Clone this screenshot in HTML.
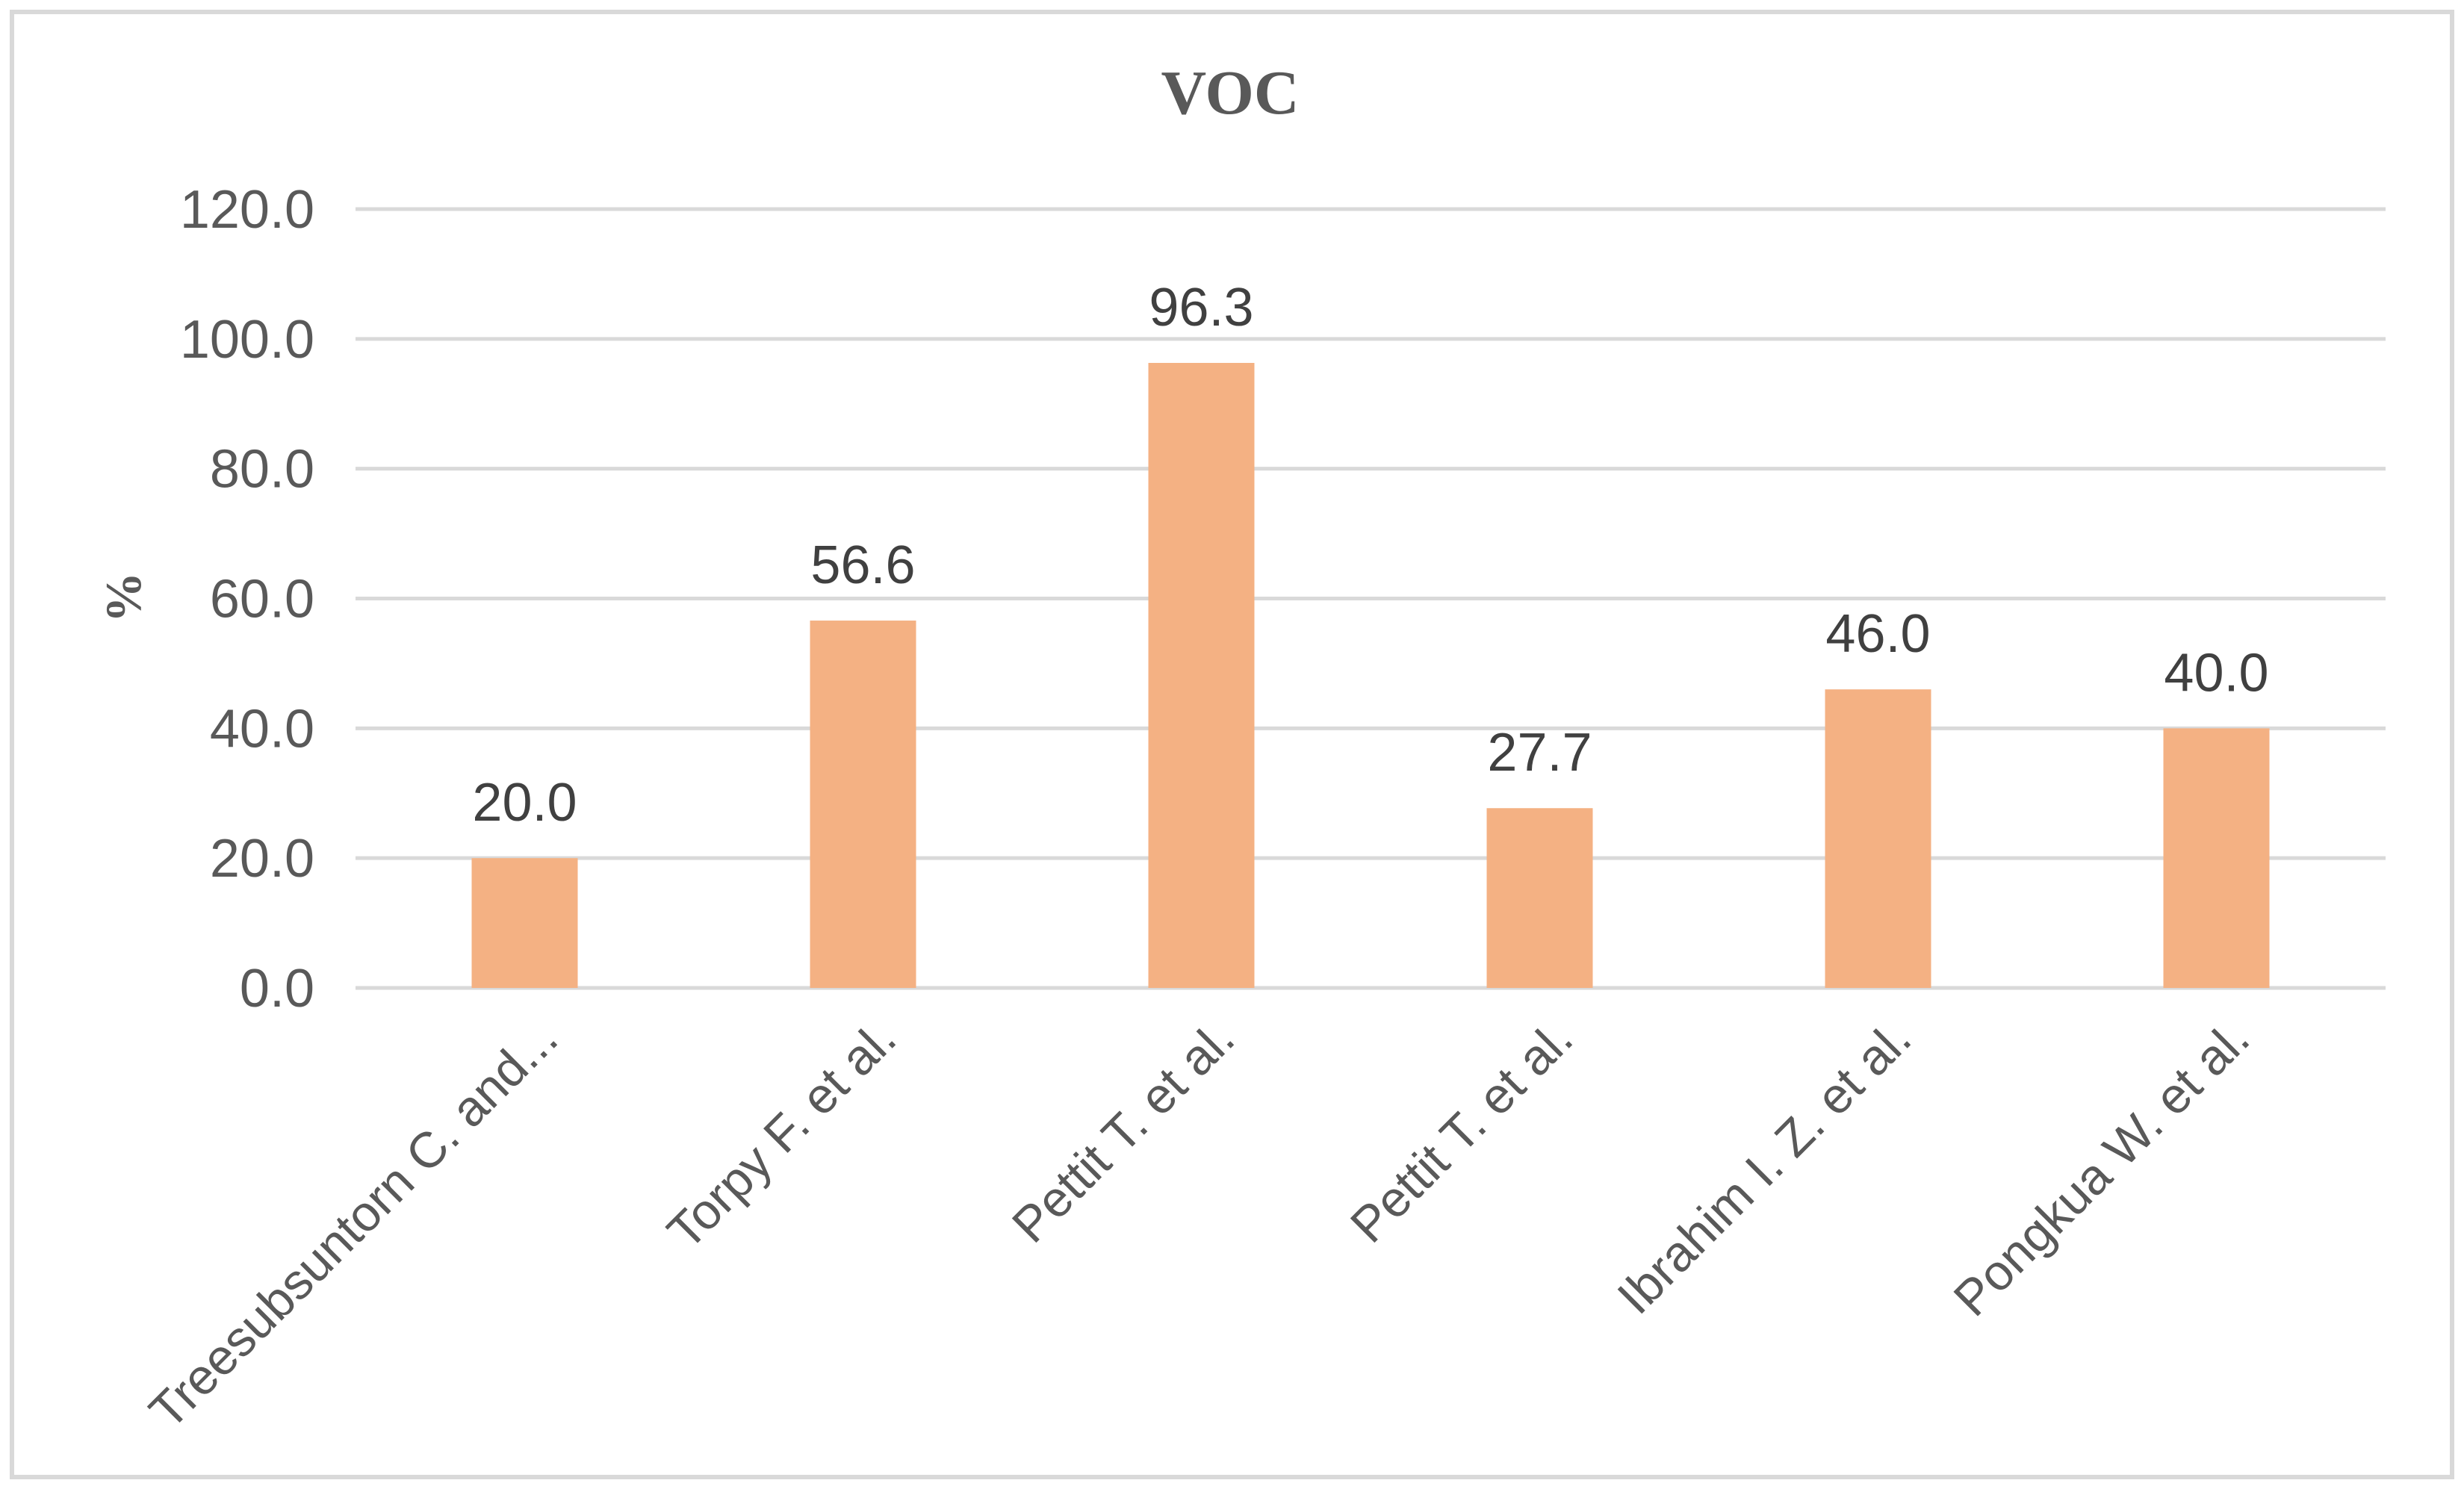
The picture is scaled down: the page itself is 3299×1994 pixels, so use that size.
<!DOCTYPE html>
<html><head><meta charset="utf-8"><style>
html,body{margin:0;padding:0;background:#fff;}
svg{display:block;}
</style></head><body>
<svg id="chart" width="3299" height="1994" viewBox="0 0 3299 1994" xmlns="http://www.w3.org/2000/svg">
<rect x="16" y="16" width="3267" height="1962" fill="#fff" stroke="#d9d9d9" stroke-width="6"/>
<text x="1647" y="152" text-anchor="middle" font-family="Liberation Serif, serif" font-weight="bold" font-size="84" fill="#595959">VOC</text>
<text transform="translate(188,800) rotate(-90)" text-anchor="middle" font-family="Liberation Serif, serif" font-weight="bold" font-size="68" fill="#595959">%</text>
<g id="grid"></g><g id="bars"></g><g id="labels"></g>
</svg>
<script>
const categories = ["Treesubsuntorn C. and...","Torpy F. et al.","Pettit T. et al.","Pettit T. et al.","Ibrahim I. Z. et al.","Pongkua W. et al."];
const values = [20.0,56.6,96.3,27.7,46.0,40.0];
const yTicks = [0,20,40,60,80,100,120];
const NS="http://www.w3.org/2000/svg";
const left=476,right=3194,y0=1323,yTop=280,yMax=120;
function y(v){return y0-(v/yMax)*(y0-yTop);}
const bw=(right-left)/categories.length;
function xc(i){return left+bw*(i+0.5);}
function mk(tag,attrs,parent){const e=document.createElementNS(NS,tag);for(const k in attrs)e.setAttribute(k,attrs[k]);parent.appendChild(e);return e;}
const grid=document.getElementById('grid'),bars=document.getElementById('bars'),labels=document.getElementById('labels');
yTicks.forEach(t=>{
  const l=mk('line',{x1:left,x2:right,y1:y(t),y2:y(t),stroke:'#d9d9d9','stroke-width':5},grid);
  
  
  const tx=mk('text',{x:421,y:y(t)+25,'text-anchor':'end','font-family':'Liberation Sans, sans-serif','font-size':72,fill:'#595959'},labels);
  tx.textContent=t.toFixed(1);
  
  
});
values.forEach((v,i)=>{
  const r=mk('rect',{x:xc(i)-71,y:y(v),width:142,height:y0-y(v),fill:'#F4B183'},bars);
  
  
  const t=mk('text',{x:xc(i),y:y(v)-50,'text-anchor':'middle','font-family':'Liberation Sans, sans-serif','font-size':72,fill:'#404040'},labels);
  t.textContent=v.toFixed(1);
  
  
  const c=mk('text',{transform:'translate('+(xc(i)+48)+',1395) rotate(-45)','text-anchor':'end','font-family':'Liberation Sans, sans-serif','font-size':67,fill:'#595959'},labels);
  c.textContent=categories[i];
  
  
});
</script>
</body></html>
